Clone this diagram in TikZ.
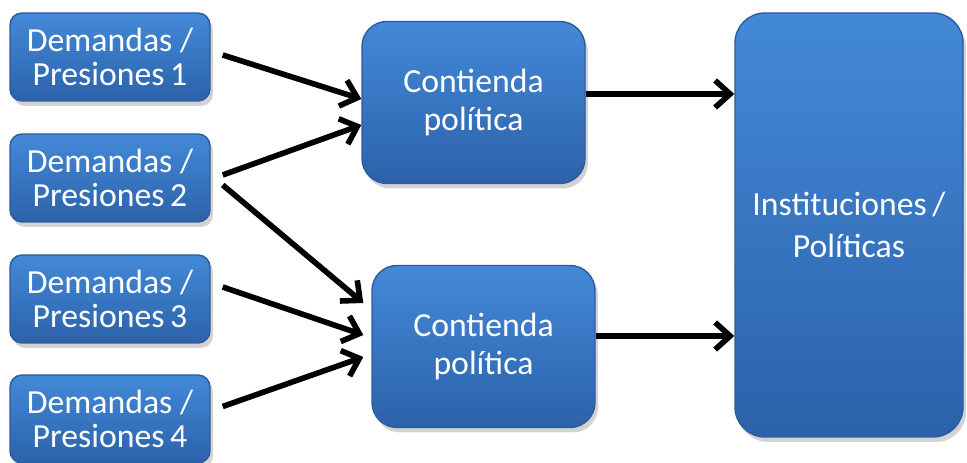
\documentclass[tikz,border=0pt]{standalone}
\usepackage{fontspec}
\setmainfont{Carlito}
\usetikzlibrary{arrows.meta,shadows}

\definecolor{boxtop}{RGB}{67,137,216}
\definecolor{boxbottom}{RGB}{44,98,170}
\definecolor{boxline}{RGB}{45,92,155}

\begin{document}
\begin{tikzpicture}[
  box/.style={draw=boxline, line width=0.4pt, top color=boxtop, bottom color=boxbottom,
    text=white, align=center, inner sep=0pt,
    drop shadow={opacity=0.35, shadow xshift=0.03cm, shadow yshift=-0.05cm}},
  demanda/.style={box, minimum width=2cm, minimum height=0.88cm, rounded corners=0.12cm,
    font=\fontsize{9.6}{9.6}\selectfont},
  contienda/.style={box, minimum width=2.23cm, minimum height=1.62cm, rounded corners=0.25cm,
    font=\fontsize{9.6}{10.8}\selectfont},
  inst/.style={box, minimum width=2.28cm, minimum height=4.24cm, rounded corners=0.3cm,
    font=\fontsize{9.6}{12}\selectfont},
  arr/.style={-{Straight Barb[length=0.15cm,width=0.27cm,line width=1.6pt]}, line width=1.6pt}
]
\useasboundingbox (0,0) rectangle (9.67,-4.63);

\node[demanda] (d1) at (1.10,-0.57) {Demandas /\\Presiones\,1};
\node[demanda] (d2) at (1.10,-1.78) {Demandas /\\Presiones\,2};
\node[demanda] (d3) at (1.10,-2.99) {Demandas /\\Presiones\,3};
\node[demanda] (d4) at (1.10,-4.19) {Demandas /\\Presiones\,4};

\node[contienda] (c1) at (4.735,-1.025) {Contienda\\política};
\node[contienda] (c2) at (4.835,-3.465) {Contienda\\política};

\node[inst] (inst) at (8.49,-2.25) {Instituciones\,/\\Políticas};

% demandas -> contienda
\draw[arr] ([xshift=0.12cm,yshift=0.02cm]d1.east) -- ([yshift=0.035cm]c1.west);
\draw[arr] ([xshift=0.12cm,yshift=0.03cm]d2.east) -- ([yshift=-0.225cm]c1.west);
\draw[arr] ([xshift=0.12cm,yshift=-0.07cm]d2.east) -- ([xshift=-0.08cm,yshift=0.435cm]c2.west);
\draw[arr] ([xshift=0.12cm,yshift=0.12cm]d3.east) -- ([xshift=-0.08cm,yshift=0.115cm]c2.west);
\draw[arr] ([xshift=0.12cm,yshift=0.125cm]d4.east) -- ([xshift=-0.08cm,yshift=-0.105cm]c2.west);

% contienda -> instituciones
\draw[arr] ([yshift=0.085cm]c1.east) -- ([yshift=0.085cm]c1.east -| inst.west);
\draw[arr] ([yshift=0.105cm]c2.east) -- ([yshift=0.105cm]c2.east -| inst.west);

\end{tikzpicture}
\end{document}
